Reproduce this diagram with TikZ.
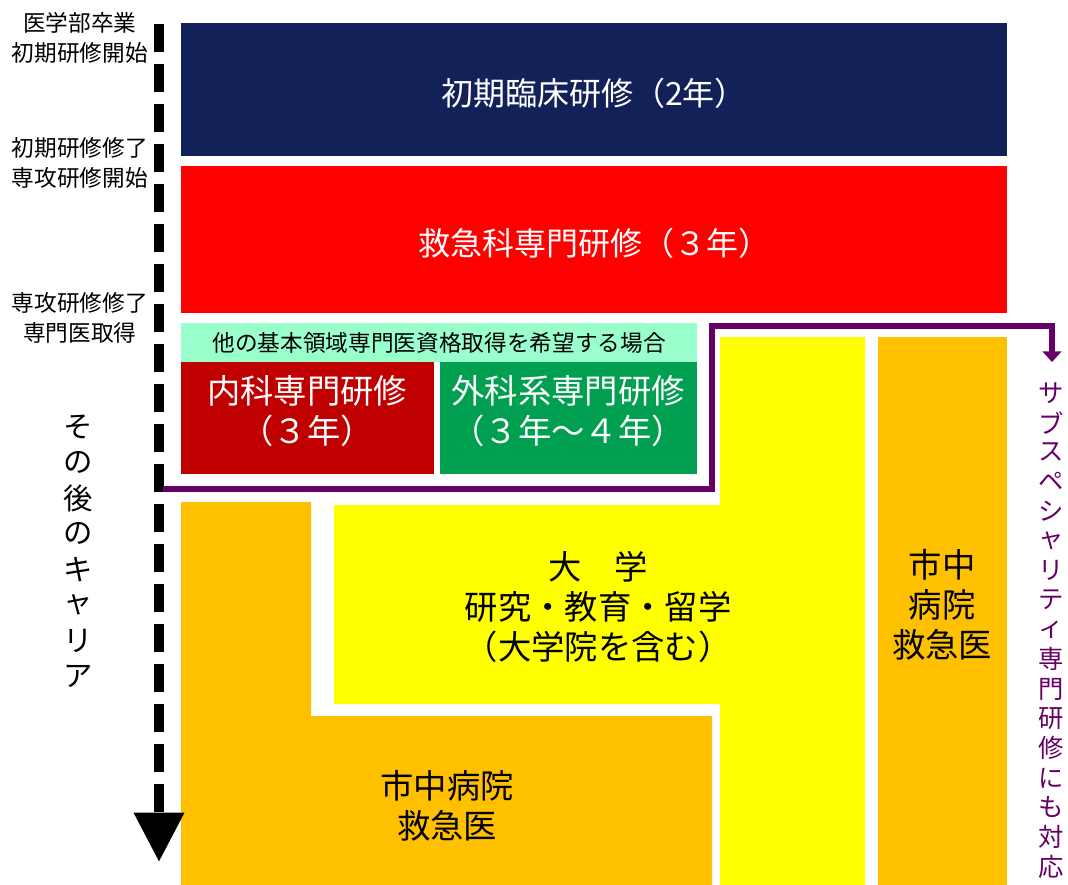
\documentclass[tikz,border=0pt]{standalone}
\usepackage{fontspec}
\setmainfont{Noto Sans CJK JP}
\usetikzlibrary{arrows.meta}
\definecolor{navybox}{RGB}{19,33,89}
\definecolor{redbox}{RGB}{255,0,0}
\definecolor{mintbox}{RGB}{153,255,204}
\definecolor{darkredbox}{RGB}{192,0,0}
\definecolor{greenbox}{RGB}{0,160,80}
\definecolor{orangebox}{RGB}{255,192,0}
\definecolor{yellowbox}{RGB}{255,255,0}
\definecolor{purpleline}{RGB}{102,0,102}
\begin{document}
\begin{tikzpicture}[x=0.75pt,y=-0.75pt,
    stagetext/.style={text=white,font=\fontsize{24}{30}\selectfont},
    milestone/.style={align=center,font=\fontsize{17}{22}\selectfont},
    boxtext/.style={align=center,font=\fontsize{25}{30}\selectfont},
    vcareer/.style={font=\fontsize{22}{22}\selectfont,inner sep=0pt},
    vsub/.style={text=purpleline,font=\fontsize{19}{19}\selectfont,inner sep=0pt}]
  \useasboundingbox (0,0) rectangle (1068,885);
  % stages
  \fill[navybox] (181,23) rectangle (1007,156);
  \fill[redbox] (181,166) rectangle (1007,313);
  \fill[mintbox] (181,323) rectangle (697,362);
  \fill[darkredbox] (181,362) rectangle (434,474);
  \fill[greenbox] (440,362) rectangle (697,474);
  % careers
  \fill[orangebox] (181,502) -- (311,502) -- (311,716) -- (712,716)
    -- (712,885) -- (181,885) -- cycle;
  \fill[yellowbox] (720,337) -- (865,337) -- (865,885) -- (720,885)
    -- (720,704) -- (334,704) -- (334,505) -- (720,505) -- cycle;
  \fill[orangebox] (878,337) rectangle (1007,885);
  \node[stagetext] (initial) at (594,93) {初期臨床研修（2年）};
  \node[stagetext] (emerg) at (594,243) {救急科専門研修（３年）};
  \node[font=\fontsize{17}{20}\selectfont] (other) at (439,343)
    {他の基本領域専門医資格取得を希望する場合};
  \node[boxtext,text=white] (naika) at (307,411) {内科専門研修\\（３年）};
  \node[boxtext,text=white] (geka) at (568,411) {外科系専門研修\\（３年～４年）};
  \node[boxtext] (univ) at (598,607) {大　学\\研究・教育・留学\\（大学院を含む）};
  \node[boxtext] (cityA) at (447,806) {市中病院\\救急医};
  \node[boxtext] (cityB) at (942,605) {市中\\病院\\救急医};
  % milestones
  \node[milestone] (grad) at (80,38) {医学部卒業\\初期研修開始};
  \node[milestone] (major) at (80,163) {初期研修修了\\専攻研修開始};
  \node[milestone] (spec) at (80,318) {専攻研修修了\\専門医取得};
  \foreach \ch [count=\i] in {そ,の,後,の,キ,ャ,リ,ア}
    \node[vcareer] (career\i) at (78,{427+(\i-1)*35.6}) {\ch};
  \foreach \ch [count=\i] in {サ,ブ,ス,ペ,シ,ャ,リ,テ,ィ,専,門,研,修,に,も,対,応}
    \node[vsub] (sub\i) at (1051,{393+(\i-1)*29.6}) {\ch};
  % arrows
  \coordinate (tstart) at (159,24);
  \coordinate (tend) at (159,862);
  \draw[line width=7.5pt,dash pattern=on 21pt off 9pt,
    -{Triangle[width=36pt,length=37pt]}] (tstart) -- (tend);
  \coordinate (pstart) at (163,489);
  \coordinate (pend) at (1052,362);
  \draw[purpleline,line width=4.5pt,-{Triangle[width=14pt,length=8pt]}]
    (pstart) -- (712,489) -- (712,326) -- (1052,326) -- (pend);
\end{tikzpicture}
\end{document}
